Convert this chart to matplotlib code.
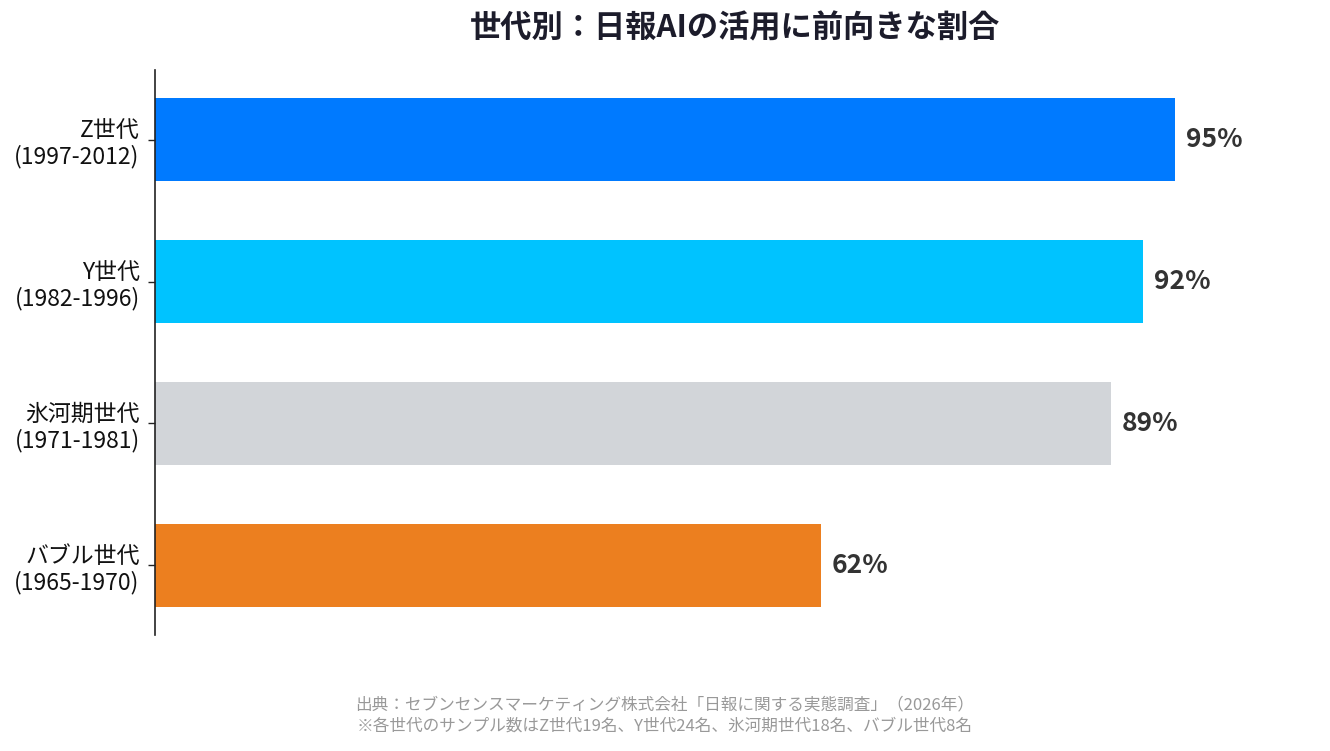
import matplotlib
matplotlib.use("Agg")
import matplotlib.pyplot as plt

plt.rcParams['font.family'] = ['Noto Sans CJK JP', 'DejaVu Sans']

# データ
generations = ["Z世代\n(1997-2012)", "Y世代\n(1982-1996)",
               "氷河期世代\n(1971-1981)", "バブル世代\n(1965-1970)"]
values = [95, 92, 89, 62]
colors = ["#007AFF", "#00C3FF", "#D2D5D9", "#EC7F1F"]

title = "世代別：日報AIの活用に前向きな割合"
note1 = "出典：セブンセンスマーケティング株式会社「日報に関する実態調査」（2026年）"
note2 = "※各世代のサンプル数はZ世代19名、Y世代24名、氷河期世代18名、バブル世代8名"

fig = plt.figure(figsize=(13.3, 7.51), dpi=100)
ax = fig.add_axes([0.1165, 0.1545, 0.872, 0.7523])

ypos = list(range(len(values)))
ax.barh(ypos, values, height=0.585, color=colors)

for y, v in zip(ypos, values):
    ax.text(v + 1.0, y, f"{v}%", va="center", ha="left",
            fontsize=19, fontweight="bold", color="#333333")

ax.set_yticks(ypos)
ax.set_yticklabels(generations, fontsize=16.5, color="#111111", linespacing=1.15)
ax.set_ylim(3.49, -0.49)
ax.set_xlim(0, 108)
ax.set_xticks([])

for s in ["top", "right", "bottom"]:
    ax.spines[s].set_visible(False)
ax.spines["left"].set_color("#222222")
ax.spines["left"].set_linewidth(1.2)
ax.tick_params(axis="y", length=5, width=1, color="#222222", pad=6)

fig.text(ax.get_position().x0 + ax.get_position().width / 2, 0.962, title,
         ha="center", va="center", fontsize=22.5, fontweight="bold", color="#1C1C2B")

fig.text(0.5, 0.061, note1, ha="center", va="center", fontsize=12, color="#999999")
fig.text(0.5, 0.033, note2, ha="center", va="center", fontsize=12, color="#999999")

fig.savefig("out.png", dpi=100)
